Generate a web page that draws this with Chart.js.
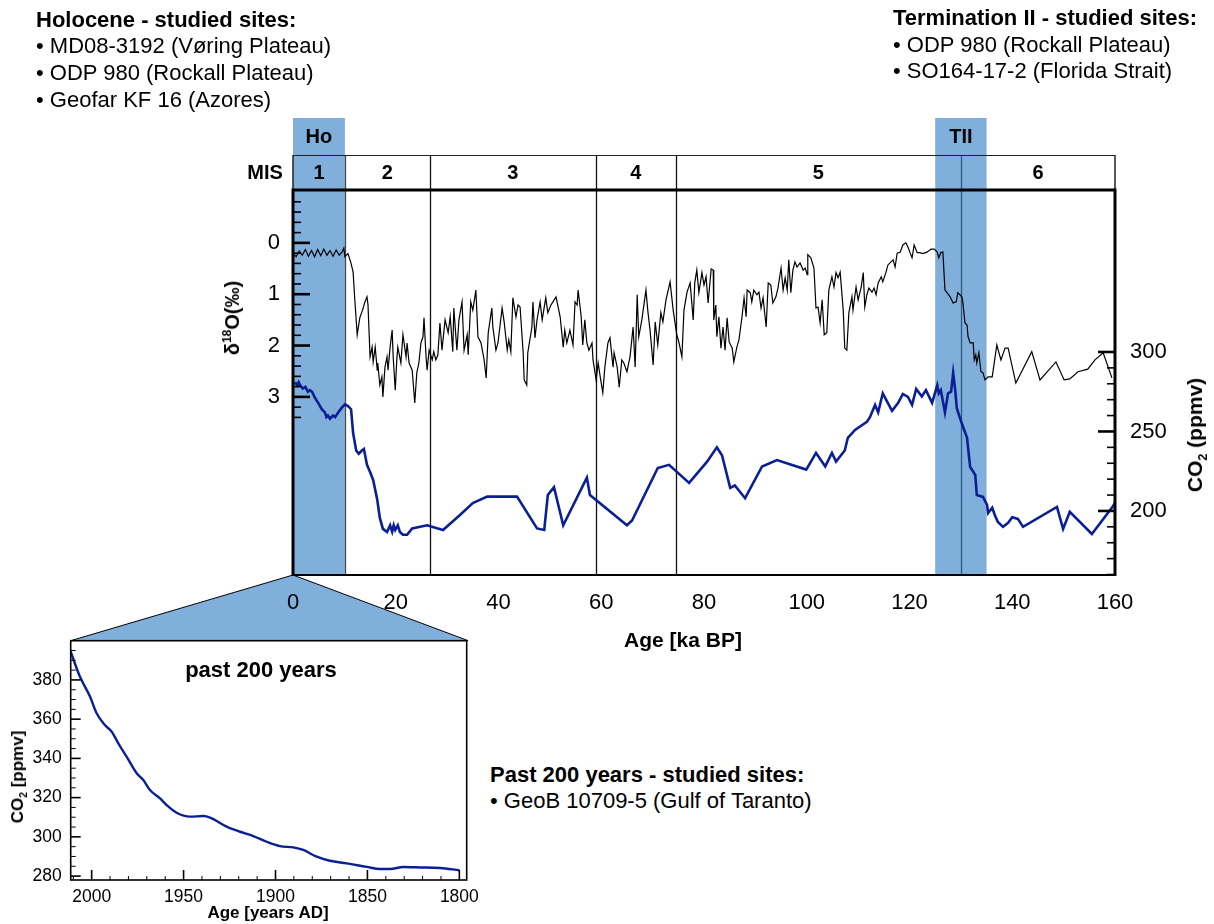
<!doctype html>
<html lang="en">
<head>
<meta charset="UTF-8">
<title>δ18O and CO2 – last 160 ka</title>
<style>
  body { margin: 0; background: #fff; font-family: 'Liberation Sans', Arial, Helvetica, sans-serif; color: #000; }
  #page { position: relative; width: 1214px; height: 924px; overflow: hidden; }
  #mainChart { position: absolute; left: 0; top: 0; z-index: 2; }
  #insetChart { position: absolute; left: 0; top: 570px; z-index: 1; }
  .txt { position: absolute; font-size: 22px; line-height: 24px; white-space: nowrap; z-index: 3; }
  .b { font-weight: bold; }
  .c { transform: translate(-50%, -50%); }
  .rot { transform: translate(-50%, -50%) rotate(-90deg); }
  sup, sub { font-size: 0.6em; line-height: 0; }
</style>
</head>
<body>
<div id="page">
  <canvas id="mainChart" width="1214" height="680"></canvas>
  <canvas id="insetChart" width="480" height="354"></canvas>

  <div class="txt b" style="left:36px; top:8px;">Holocene - studied sites:</div>
  <div class="txt" style="left:36px; top:34px;">• MD08-3192 (Vøring Plateau)</div>
  <div class="txt" style="left:36px; top:61px;">• ODP 980 (Rockall Plateau)</div>
  <div class="txt" style="left:36px; top:88px;">• Geofar KF 16 (Azores)</div>

  <div class="txt b" style="left:893px; top:6px;">Termination II - studied sites:</div>
  <div class="txt" style="left:893px; top:33px;">• ODP 980 (Rockall Plateau)</div>
  <div class="txt" style="left:893px; top:59px;">• SO164-17-2 (Florida Strait)</div>

  <div class="txt b" style="left:490px; top:763px;">Past 200 years - studied sites:</div>
  <div class="txt" style="left:490px; top:789px;">• GeoB 10709-5 (Gulf of Taranto)</div>

  <div class="txt b c" style="left:683px; top:640px; font-size:21px;">Age [ka BP]</div>
  <div class="txt b rot" style="left:232px; top:318px; font-size:20px;">δ<sup>18</sup>O(‰)</div>
  <div class="txt b rot" style="left:1195px; top:435px; font-size:21px;">CO<sub>2</sub> (ppmv)</div>

  <div class="txt b c" style="left:261px; top:670px; font-size:22px;">past 200 years</div>
  <div class="txt b rot" style="left:18px; top:777px; font-size:17px;">CO<sub>2</sub> [ppmv]</div>
  <div class="txt b c" style="left:268px; top:913px; font-size:17px;">Age [years AD]</div>
</div>

<script src="https://cdn.jsdelivr.net/npm/chart.js"></script>
<script>
// benthic δ18O (‰), age in ka BP
const d18oAge = [0, 0.6, 1.2, 1.8, 2.4, 3.0, 3.6, 4.2, 4.8, 5.4, 6.0, 6.6, 7.2, 7.8, 8.4, 9.0, 9.6, 9.9,
  10.1, 10.7, 11.3, 11.7, 12.1, 12.5, 13.0, 13.6, 14.0, 14.4, 14.6, 15.0, 15.4, 15.6, 16.0, 16.4, 16.5, 16.9,
  17.3, 17.5, 17.9, 18.3, 18.5, 18.9, 19.3, 19.5, 19.9, 20.2, 20.4, 21.0, 21.4, 22.0, 22.2, 22.6, 23.2, 23.4,
  23.7, 24.1, 24.5, 24.9, 25.3, 25.5, 25.9, 26.1, 26.5, 27.1, 27.4, 27.8, 28.2, 28.6, 29.0, 29.6, 30.2, 30.6,
  31.1, 31.3, 31.9, 32.3, 32.9, 33.3, 33.9, 34.1, 34.6, 35.0, 35.6, 36.0, 36.6, 37.2, 37.6, 38.0, 38.7, 38.9,
  39.5, 39.9, 40.7, 41.1, 41.7, 42.0, 42.4, 42.8, 43.4, 43.8, 44.2, 44.8, 45.0, 45.5, 45.7, 46.5, 46.7, 47.1,
  47.5, 48.1, 48.5, 49.2, 49.6, 50.2, 50.6, 51.2, 52.0, 52.6, 52.9, 53.3, 53.9, 54.5, 54.9, 55.3, 55.5, 56.1,
  56.4, 56.8, 57.2, 57.6, 58.2, 58.4, 59.0, 59.4, 59.8, 60.3, 60.7, 61.3, 61.7, 62.3, 62.5, 63.1, 63.5, 64.0,
  64.4, 65.0, 65.6, 66.2, 66.6, 67.0, 67.3, 67.9, 68.7, 69.1, 69.5, 70.1, 70.5, 71.0, 71.6, 72.0, 72.6, 73.4,
  74.0, 74.7, 75.1, 75.7, 76.1, 76.7, 77.3, 77.9, 78.2, 78.6, 79.0, 79.6, 80.0, 80.4, 80.8, 81.4, 81.8, 81.9,
  82.3, 82.5, 82.9, 83.3, 83.7, 84.1, 84.5, 84.9, 85.5, 85.8, 86.4, 86.8, 87.4, 87.8, 88.2, 88.4, 89.0, 89.3,
  89.7, 90.3, 90.7, 91.1, 91.5, 92.1, 92.5, 93.0, 93.4, 94.0, 94.4, 95.0, 95.4, 95.8, 96.2, 96.5, 96.9, 97.3,
  97.7, 98.1, 98.7, 99.3, 99.7, 100.1, 100.2, 100.8, 101.4, 101.8, 102.2, 102.6, 103.0, 103.4, 103.9, 104.3,
  104.9, 105.3, 105.7, 106.1, 106.5, 107.1, 107.4, 107.8, 108.2, 108.8, 109.0, 109.6, 110.0, 110.6, 111.0,
  111.3, 111.7, 112.1, 112.7, 113.1, 113.5, 113.9, 114.5, 114.8, 115.4, 115.8, 116.4, 116.8, 117.2, 117.6,
  118.2, 118.7, 119.3, 119.7, 120.1, 120.5, 120.9, 121.5, 122.0, 122.6, 123.4, 124.2, 124.8, 125.4, 125.7,
  126.1, 126.5, 126.9, 127.3, 127.9, 128.5, 129.1, 129.4, 129.8, 130.2, 130.4, 130.8, 131.2, 131.4, 131.8,
  132.4, 132.6, 132.9, 133.1, 133.5, 133.9, 134.3, 134.7, 135.3, 136.1, 137.0, 137.8, 138.6, 139.2, 140.7,
  143.8, 145.4, 148.5, 150.1, 151.2, 152.8, 154.7, 156.1, 157.7, 159.4];
const d18oVal = [0.2, 0.27, 0.16, 0.24, 0.13, 0.26, 0.15, 0.27, 0.13, 0.25, 0.12, 0.24, 0.15, 0.26, 0.14, 0.24, 0.17, 0.1,
  0.27, 0.21, 0.4, 0.57, 1.21, 1.79, 1.46, 1.29, 1.15, 1.05, 1.21, 2.22, 2.03, 2.32, 2.03, 2.48, 2.34, 2.77,
  2.61, 3.0, 2.42, 2.22, 2.48, 2.03, 1.7, 2.22, 2.87, 2.28, 2.03, 2.34, 1.79, 2.22, 1.95, 2.34, 2.48, 2.73,
  3.12, 2.53, 2.34, 1.95, 1.83, 1.46, 2.22, 2.48, 2.09, 2.28, 2.12, 2.28, 2.18, 1.56, 2.09, 1.5, 1.75, 1.44,
  2.12, 1.27, 2.09, 1.5, 1.15, 2.09, 1.79, 2.18, 1.15, 1.31, 0.92, 1.83, 1.95, 2.28, 2.63, 1.75, 1.27, 1.64,
  2.09, 1.95, 1.27, 1.54, 2.09, 1.89, 2.12, 1.07, 1.44, 1.21, 1.25, 2.14, 2.67, 2.77, 2.14, 1.64, 1.15, 1.85,
  1.5, 1.15, 1.5, 1.07, 1.36, 1.21, 1.15, 1.05, 1.44, 2.03, 1.7, 1.95, 1.7, 1.99, 1.15, 1.21, 0.92, 1.44,
  1.99, 1.5, 1.95, 2.09, 1.95, 2.28, 2.67, 2.34, 2.61, 2.92, 2.42, 1.95, 1.85, 2.42, 2.14, 2.42, 2.81, 2.28,
  2.34, 2.51, 2.22, 1.64, 2.42, 1.01, 1.83, 1.5, 0.92, 1.36, 1.7, 2.38, 1.54, 1.99, 1.36, 1.54, 1.11, 0.76,
  1.31, 1.79, 1.93, 2.22, 1.31, 0.96, 0.78, 1.5, 0.78, 0.53, 0.97, 0.58, 0.82, 0.66, 1.17, 0.51, 0.53, 1.5,
  1.21, 1.83, 1.44, 2.05, 1.64, 2.09, 1.46, 1.93, 2.05, 2.32, 2.03, 1.89, 1.44, 1.07, 1.44, 0.92, 0.97, 1.15,
  0.92, 1.01, 0.96, 1.27, 1.07, 1.64, 0.78, 0.82, 1.17, 1.05, 0.88, 0.49, 0.92, 0.68, 0.92, 0.33, 0.97, 0.53,
  0.37, 0.47, 0.39, 0.53, 0.49, 0.62, 0.23, 0.29, 0.49, 1.27, 1.25, 1.56, 1.11, 1.79, 1.75, 0.92,
  0.66, 0.86, 0.58, 0.68, 0.57, 1.31, 2.05, 2.09, 1.36, 1.05, 1.31, 0.86, 1.11, 0.86, 0.58,
  1.25, 1.01, 0.88, 0.96, 0.88, 1.01, 0.78, 0.66, 0.76, 0.58, 0.43, 0.37, 0.33, 0.47, 0.2,
  0.18, 0.04, 0.0, 0.08, 0.19, 0.29, 0.04, 0.19, 0.19, 0.21, 0.18, 0.12, 0.12, 0.18, 0.29,
  0.19, 0.18, 0.92, 0.97, 1.05, 1.17, 1.15, 0.97, 1.01, 1.05, 1.17, 1.56, 1.6, 1.83, 1.95,
  1.95, 2.28, 2.18, 2.34, 2.14, 2.51, 2.53, 2.67, 2.61, 2.61, 1.99, 2.28, 2.05, 2.05, 2.73,
  2.12, 2.67, 2.32, 2.67, 2.65, 2.51, 2.46, 2.28, 2.14, 2.63];

// atmospheric CO2 (ppmv), age in ka BP
const co2Age = [0.4, 0.8, 1.1, 1.4, 1.9, 2.4, 2.9, 3.3, 3.7, 4.3, 4.9, 5.6, 6.2, 6.5, 6.8, 7.2, 7.8, 8.2, 8.8, 9.5,
  10.1, 10.7, 11.3, 11.7, 12.3, 12.8, 13.4, 13.8, 14.4, 15.0, 15.6, 16.4, 16.9, 17.5, 18.3, 18.9, 19.3, 19.6,
  19.9, 20.4, 20.8, 21.4, 22.2, 23.2, 26.1, 29.2, 32.5, 35.0, 37.8, 43.6, 47.5, 48.9, 49.6, 50.8, 52.6, 57.2,
  57.8, 65.0, 66.0, 71.0, 73.2, 77.1, 80.6, 82.5, 83.5, 85.1, 86.0, 88.0, 91.3, 94.2, 99.9, 101.8, 103.6,
  104.9, 105.7, 107.4, 108.0, 109.4, 111.7, 112.3, 113.3, 113.9, 114.8, 116.6, 117.8, 118.7, 119.7, 120.5,
  121.3, 122.4, 123.2, 124.4, 125.4, 125.7, 126.1, 126.9, 127.5, 128.1, 128.5, 128.9, 129.2, 129.8, 131.2,
  131.8, 132.8, 133.1, 134.3, 135.1, 135.3, 136.1, 136.6, 137.2, 138.2, 139.2, 140.0, 141.1, 142.1, 148.7,
  149.9, 151.2, 155.5, 159.6, 160];
const co2Val = [281, 279, 281, 279, 277, 278, 275, 276, 275, 271, 268, 264, 262, 259, 260, 258, 260, 259, 262, 265,
  267, 266, 264, 249, 238, 236, 238, 239, 229, 224.5, 219.5, 207, 195.6, 188.7, 186.8, 191, 187, 191,
  188, 191, 186.8, 185, 185, 189, 191, 188, 197.5, 205, 209, 209, 189, 188, 210, 215, 191, 221,
  210, 191, 194, 227, 229, 217.6, 231, 240, 235, 214.5, 216, 208, 228, 232, 226, 236.5, 228,
  236.5, 231, 238, 246, 251, 256, 259, 266.7, 262, 274, 263, 268, 273.6, 271.7, 266.7,
  276.7, 272, 276, 268, 279, 274, 276, 262, 274, 275, 286.8, 276, 264.8, 258.5, 246,
  227.7, 222.6, 210, 208.8, 203.8, 198.7, 202, 197.5, 193, 190, 192.5, 196, 195, 190, 202.5,
  188.7, 199.4, 185.5, 203, 205];

// CO2 of the last two centuries
const recentYear = [2011.4, 2006.4, 2000.9, 1997.3, 1992.8, 1989.1, 1985.5, 1981, 1975.5, 1971.9, 1968.3, 1962.8,
  1959.2, 1953.8, 1946.5, 1939.3, 1935.6, 1926.6, 1919.3, 1912.1, 1904.8, 1897.6, 1890.3, 1884.9, 1877.6,
  1870.4, 1861.3, 1850.4, 1843.1, 1837.7, 1830.4, 1821.4, 1810.5, 1800];
const recentCo2 = [394.4, 381.7, 371.5, 363, 357, 353.6, 347.7, 340.9, 332.4, 329, 323.9, 319.6,
  316.2, 312.3, 310.3, 310.6, 309.8, 305.2, 302.6, 300.4, 297.5, 295.3, 294.6, 293.3, 289.9,
  287.8, 286.5, 284.7, 283.6, 283.6, 284.6, 284.4, 284.1, 283];

// marine isotope stages and highlighted intervals
const misBounds = [10.1, 26.6, 59, 74.5, 130];
const misLabels = ['1', '2', '3', '4', '5', '6'];
const bandLabels = ['Ho', 'TII'];
const bandStart = [0, 125];
const bandEnd = [10.1, 135];

// tick labels
const ageTicks = [0, 20, 40, 60, 80, 100, 120, 140, 160];
const d18oTicks = [0, 1, 2, 3];
const co2Ticks = [200, 250, 300];
const yearTicks = [2000, 1950, 1900, 1850, 1800];
const recentTicks = [280, 300, 320, 340, 360, 380];

const FONT = "'Liberation Sans', Arial, Helvetica, sans-serif";
const BAND = '#80afdb';
const CO2_COLOR = '#0b1f95';
Chart.defaults.font.family = FONT;
Chart.defaults.color = '#000';

function fixedTicks(list) {
  return scale => { scale.ticks = list.map(v => ({ value: v })); };
}

function line(ctx, x0, y0, x1, y1) {
  ctx.beginPath(); ctx.moveTo(x0, y0); ctx.lineTo(x1, y1); ctx.stroke();
}

// bands, MIS header row, stage boundaries, frame and inward ticks
const mainDecor = {
  id: 'mainDecor',
  beforeDatasetsDraw(chart) {
    const { ctx, chartArea: a, scales: { x } } = chart;
    const headTop = a.top - 72, misTop = a.top - 35;
    ctx.save();
    ctx.fillStyle = BAND;
    bandStart.forEach((s, i) => {
      const x0 = x.getPixelForValue(s), x1 = x.getPixelForValue(bandEnd[i]);
      ctx.fillRect(x0, headTop, x1 - x0, a.bottom - headTop);
    });
    ctx.lineWidth = 1.3;
    misBounds.forEach(b => {
      const px = Math.round(x.getPixelForValue(b)) + 0.5;
      ctx.strokeStyle = b === 130 ? '#2d5a85' : (b < 12 ? '#4a4a4a' : '#111');
      line(ctx, px, misTop, px, a.bottom);
    });
    ctx.restore();
  },
  afterDatasetsDraw(chart) {
    const { ctx, chartArea: a, scales: { x, y, y2 } } = chart;
    const headTop = a.top - 72, misTop = a.top - 35;
    ctx.save();

    // header row
    ctx.strokeStyle = '#222';
    ctx.lineWidth = 1;
    line(ctx, a.left, misTop + 0.5, a.right, misTop + 0.5);
    ctx.lineWidth = 1.5;
    line(ctx, a.left, misTop, a.left, a.top);
    line(ctx, a.right, misTop, a.right, a.top);

    ctx.fillStyle = '#000';
    ctx.font = 'bold 20px ' + FONT;
    ctx.textAlign = 'center';
    ctx.textBaseline = 'middle';
    const edges = [0, ...misBounds, 160];
    misLabels.forEach((t, i) => {
      const cx = (x.getPixelForValue(edges[i]) + x.getPixelForValue(edges[i + 1])) / 2;
      ctx.fillText(t, cx, (misTop + a.top) / 2 + 1);
    });
    ctx.fillText('MIS', a.left - 28, (misTop + a.top) / 2 + 1);
    bandLabels.forEach((t, i) => {
      const cx = (x.getPixelForValue(bandStart[i]) + x.getPixelForValue(bandEnd[i])) / 2;
      ctx.fillText(t, cx, (headTop + misTop) / 2 + 1);
    });

    // plot frame
    ctx.strokeStyle = '#000';
    ctx.lineWidth = 3;
    line(ctx, a.left, a.top, a.right, a.top);
    line(ctx, a.left, a.top - 1.5, a.left, a.bottom + 1);
    line(ctx, a.right, a.top - 1.5, a.right, a.bottom + 1);
    ctx.lineWidth = 2;
    line(ctx, a.left, a.bottom, a.right, a.bottom);

    // δ18O ticks, every 0.2 ‰
    for (let k = -4; k <= 17; k++) {
      const py = y.getPixelForValue(k * 0.2);
      const major = k % 5 === 0;
      ctx.lineWidth = major ? 2.6 : 1.6;
      line(ctx, a.left, py, a.left + (major ? 17 : 8), py);
    }
    // CO2 ticks, every 10 ppmv
    for (let v = 160; v <= 300; v += 10) {
      const py = y2.getPixelForValue(v);
      const major = v % 50 === 0;
      ctx.lineWidth = major ? 2.6 : 1.6;
      line(ctx, a.right, py, a.right - (major ? 17 : 8), py);
    }
    ctx.restore();
  }
};

const mainChart = new Chart(document.getElementById('mainChart'), {
  type: 'line',
  data: {
    datasets: [
      {
        label: 'δ18O',
        data: d18oAge.map((t, i) => ({ x: t, y: d18oVal[i] })),
        yAxisID: 'y',
        borderColor: '#000',
        borderWidth: 1.2,
        pointRadius: 0,
        tension: 0
      },
      {
        label: 'CO2',
        data: co2Age.map((t, i) => ({ x: t, y: co2Val[i] })),
        yAxisID: 'y2',
        borderColor: CO2_COLOR,
        borderWidth: 2.6,
        pointRadius: 0,
        tension: 0
      }
    ]
  },
  options: {
    responsive: false,
    animation: false,
    events: [],
    layout: { padding: { left: 217, right: 39, top: 190, bottom: 45 } },
    plugins: { legend: { display: false }, tooltip: { enabled: false } },
    scales: {
      x: {
        type: 'linear', min: 0, max: 160,
        grid: { display: false, drawTicks: false }, border: { display: false },
        afterBuildTicks: fixedTicks(ageTicks),
        afterFit: s => { s.height = 60; },
        ticks: { padding: 15, font: { size: 22 }, maxRotation: 0, autoSkip: false }
      },
      y: {
        position: 'left', reverse: true, min: -1.03, max: 6.47,
        grid: { display: false, drawTicks: false }, border: { display: false },
        afterBuildTicks: fixedTicks(d18oTicks),
        afterFit: s => { s.width = 76; },
        ticks: { padding: 13, font: { size: 22 } }
      },
      y2: {
        position: 'right', min: 159.7, max: 401.9,
        grid: { display: false, drawTicks: false }, border: { display: false },
        afterBuildTicks: fixedTicks(co2Ticks),
        afterFit: s => { s.width = 60; },
        ticks: { padding: 15, font: { size: 22 } }
      }
    }
  },
  plugins: [mainDecor]
});

// zoom wedge from the Holocene band down to the inset, plus inset frame and ticks
const insetDecor = {
  id: 'insetDecor',
  beforeDraw(chart) {
    const { ctx, chartArea: a } = chart;
    const top = chart.canvas.offsetTop;
    const apexX = mainChart.scales.x.getPixelForValue(0);
    const apexY = mainChart.chartArea.bottom - top;
    ctx.save();
    ctx.fillStyle = BAND;
    ctx.beginPath();
    ctx.moveTo(apexX, apexY);
    ctx.lineTo(a.right + 1.5, a.top);
    ctx.lineTo(a.left, a.top);
    ctx.closePath();
    ctx.fill();
    ctx.strokeStyle = '#000';
    ctx.lineWidth = 1;
    line(ctx, apexX, apexY, a.left, a.top);
    line(ctx, apexX, apexY, a.right + 1.5, a.top);
    ctx.restore();
  },
  afterDatasetsDraw(chart) {
    const { ctx, chartArea: a, scales: { x, y } } = chart;
    ctx.save();
    ctx.strokeStyle = '#000';
    ctx.lineWidth = 1.6;
    ctx.strokeRect(a.left, a.top, a.right - a.left, a.bottom - a.top);
    for (let v = 280; v <= 395; v += 5) {
      const py = y.getPixelForValue(v);
      const major = v % 20 === 0;
      ctx.lineWidth = major ? 1.6 : 1;
      line(ctx, a.left, py, a.left + (major ? 10 : 5), py);
    }
    for (let v = 1800; v <= 2010; v += 10) {
      const px = x.getPixelForValue(v);
      const major = v % 50 === 0;
      ctx.lineWidth = major ? 1.6 : 1;
      line(ctx, px, a.bottom, px, a.bottom - (major ? 10 : 4));
    }
    ctx.restore();
  }
};

new Chart(document.getElementById('insetChart'), {
  type: 'line',
  data: {
    datasets: [{
      label: 'CO2 past 200 years',
      data: recentYear.map((t, i) => ({ x: t, y: recentCo2[i] })),
      borderColor: CO2_COLOR,
      borderWidth: 2.4,
      pointRadius: 0,
      cubicInterpolationMode: 'monotone'
    }]
  },
  options: {
    responsive: false,
    animation: false,
    events: [],
    layout: { padding: { left: 0, right: 13.3, top: 70.7, bottom: 0 } },
    plugins: { legend: { display: false }, tooltip: { enabled: false } },
    scales: {
      x: {
        type: 'linear', reverse: true, min: 1796, max: 2011.4,
        grid: { display: false, drawTicks: false }, border: { display: false },
        afterBuildTicks: fixedTicks(yearTicks),
        afterFit: s => { s.height = 44; s.paddingLeft = 0; s.paddingRight = 0; },
        ticks: { padding: 7, font: { size: 17.5 }, maxRotation: 0, autoSkip: false, callback: v => String(v) }
      },
      y: {
        min: 278, max: 400,
        grid: { display: false, drawTicks: false }, border: { display: false },
        afterBuildTicks: fixedTicks(recentTicks),
        afterFit: s => { s.width = 70.7; },
        ticks: { padding: 9, font: { size: 17.5 } }
      }
    }
  },
  plugins: [insetDecor]
});
</script>
</body>
</html>
